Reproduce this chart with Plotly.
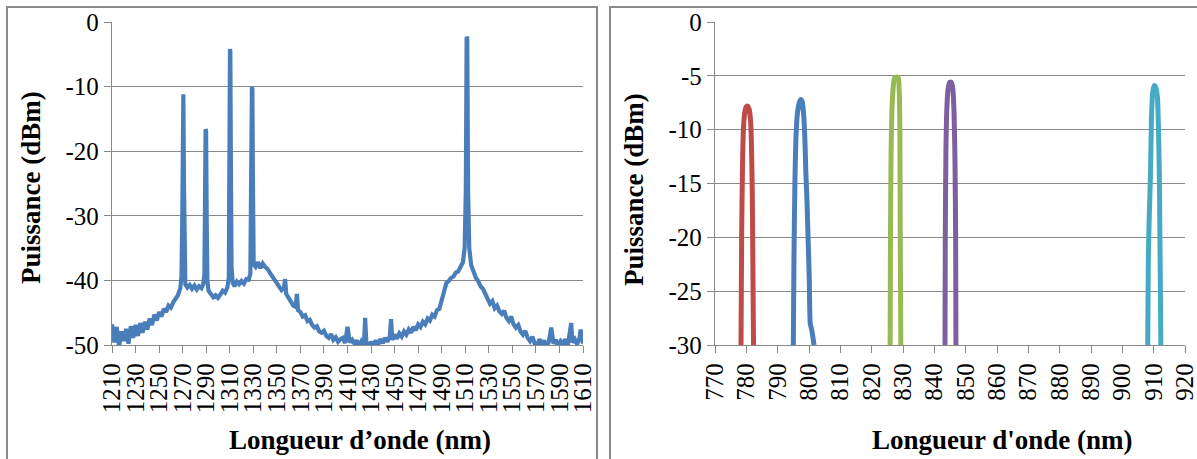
import plotly.graph_objects as go

# ---------------- Left chart: broadband spectrum ----------------
WL_LEFT = [
    1210, 1212, 1214, 1216, 1218, 1220, 1222, 1224, 1226, 1228, 1230, 1232, 1234, 1236, 1238,
    1240, 1242, 1244, 1246, 1248, 1250, 1252, 1254, 1256, 1258, 1260, 1262, 1264, 1266, 1268,
    1269, 1269.7, 1270.2, 1270.6, 1271.1, 1271.6, 1272.3, 1274, 1276, 1278, 1280, 1282, 1284,
    1286, 1287.5, 1288.5, 1289.1, 1289.5, 1289.9, 1290.4, 1291, 1292, 1294, 1296, 1298, 1300,
    1302, 1304, 1306, 1308, 1309.2, 1309.8, 1310.2, 1310.5, 1310.9, 1311.5, 1312.5, 1314, 1316,
    1318, 1320, 1322, 1324, 1326, 1327.5, 1328.3, 1328.8, 1329.2, 1329.7, 1330.3, 1332, 1334,
    1336, 1338, 1340, 1342, 1344, 1346, 1348, 1350, 1352, 1354, 1356, 1357, 1358, 1360, 1362,
    1364, 1366, 1367, 1368, 1370, 1372, 1374, 1376, 1378, 1380, 1382, 1384, 1386, 1388, 1390,
    1392, 1394, 1396, 1398, 1400, 1402, 1404, 1406, 1408, 1410, 1412, 1414, 1416, 1418, 1420,
    1422, 1424, 1425, 1426, 1428, 1430, 1432, 1434, 1436, 1438, 1440, 1442, 1444, 1446, 1447,
    1448, 1450, 1452, 1454, 1456, 1458, 1460, 1462, 1464, 1466, 1468, 1470, 1472, 1474, 1476,
    1478, 1480, 1482, 1484, 1486, 1488, 1490, 1492, 1494, 1496, 1498, 1500, 1502, 1504, 1506,
    1508, 1509.5, 1510.5, 1511.2, 1511.7, 1512.4, 1513.4, 1515, 1517, 1519, 1521, 1523, 1525,
    1527, 1529, 1531, 1533, 1535, 1537, 1539, 1541, 1543, 1545, 1547, 1549, 1551, 1553, 1555,
    1557, 1559, 1561, 1563, 1565, 1567, 1569, 1571, 1573, 1575, 1577, 1579, 1581, 1583, 1585,
    1587, 1589, 1591, 1593, 1595, 1597, 1599, 1600, 1601, 1603, 1605, 1607, 1608, 1609, 1610,
]
POWER_LEFT = [
    -46.8, -49.6, -47.2, -50.3, -47.9, -49.4, -47.5, -49.8, -47.1, -48.9, -46.9, -48.6, -46.6, -48.1, -46.4,
    -47.6, -45.9, -46.9, -45.3, -46.2, -44.9, -45.6, -44.4, -44.9, -43.9, -44.2, -43.4, -42.9, -42.3, -41.2,
    -39.5, -30.0, -11.5, -11.2, -25.0, -38.0, -40.6, -41.1, -40.7, -41.3, -40.8, -41.4, -40.9,
    -41.2, -40.6, -39.0, -25.0, -16.6, -16.8, -30.0, -40.0, -41.6, -42.1, -42.6, -42.3, -42.7,
    -42.2, -41.6, -41.9, -41.1, -39.5, -20.0, -4.2, -4.5, -20.0, -38.0, -40.4, -40.9, -40.2,
    -40.6, -40.1, -40.5, -39.8, -39.9, -39.0, -25.0, -10.1, -10.3, -25.0, -37.5, -37.9, -37.2,
    -38.1, -37.4, -37.9, -38.2, -38.8, -39.3, -39.9, -40.4, -40.9, -41.5, -41.2, -39.8, -42.1, -42.7, -43.2,
    -43.9, -44.1, -42.1, -44.6, -44.9, -45.6, -45.4, -46.3, -46.1, -46.9, -47.3, -47.1, -47.9, -48.1, -47.8,
    -48.6, -48.9, -48.3, -49.2, -48.8, -49.5, -49.1, -48.9, -49.7, -47.2, -49.6, -49.2, -49.8, -49.3, -50.2,
    -49.4, -49.9, -45.8, -49.6, -50.4, -49.5, -50.1, -49.3, -49.9, -49.1, -49.7, -48.9, -49.5, -48.6, -46.0,
    -49.2, -48.4, -49.0, -48.2, -48.7, -47.9, -48.4, -47.6, -48.1, -47.2, -47.7, -46.8, -47.2, -46.4, -46.8,
    -45.9, -46.2, -45.3, -45.6, -44.6, -44.4, -43.2, -41.6, -40.4, -40.1, -39.6, -39.4, -38.8, -38.6, -37.9,
    -37.2, -35.0, -26.0, -2.3, -2.5, -26.0, -35.0, -37.6, -38.8, -39.6, -40.1, -40.9, -41.3,
    -42.2, -42.9, -43.6, -43.2, -44.3, -43.9, -44.8, -45.2, -44.7, -45.8, -46.3, -45.6, -46.8, -47.3, -46.9,
    -47.9, -48.4, -47.8, -48.9, -49.4, -48.7, -49.8, -50.2, -49.1, -49.9, -49.3, -50.3, -49.5, -47.3, -49.8,
    -49.2, -50.1, -49.4, -49.9, -49.1, -50.2, -48.3, -46.6, -49.6, -49.1, -49.9, -48.9, -47.6, -49.4, -49.8,
]
X_TICKS_LEFT = [1210, 1230, 1250, 1270, 1290, 1310, 1330, 1350, 1370, 1390, 1410,
                1430, 1450, 1470, 1490, 1510, 1530, 1550, 1570, 1590, 1610]
Y_TICKS_LEFT = [0, -10, -20, -30, -40, -50]
Y_TEXT_LEFT = ["0", "-10", "-20", "-30", "-40", "-50"]

# ---------------- Right chart: five narrow channels ----------------
RED_X = [778.3, 778.5, 778.8, 779.1, 779.5, 780.0, 780.4, 780.9, 781.3, 781.6, 781.9, 782.3]
RED_Y = [-30, -20, -13, -9.8, -8.4, -7.85, -7.8, -8.1, -9.0, -11, -16, -30]
BLUE_X = [795.0, 795.2, 795.5, 795.8, 796.3, 796.9, 797.4, 797.8, 798.3, 798.7, 799.0, 799.4,
          799.7, 799.9, 800.1, 800.4, 800.8, 801.2, 801.6]
BLUE_Y = [-30, -22, -15, -11, -8.5, -7.5, -7.2, -7.4, -8.6, -11, -14, -17,
          -20, -22, -24, -28, -28.5, -29.2, -30]
GREEN_X = [825.9, 826.0, 826.2, 826.5, 826.9, 827.3, 827.9, 828.5, 828.8, 829.0, 829.1, 829.3]
GREEN_Y = [-30, -20, -12, -8, -6, -5.2, -5.1, -5.2, -6.5, -10, -18, -30]
PURPLE_X = [843.4, 843.5, 843.7, 844.0, 844.4, 844.9, 845.4, 845.9, 846.3, 846.6, 846.8, 846.9]
PURPLE_Y = [-30, -20, -12, -8, -6.2, -5.6, -5.6, -6.2, -8.5, -13, -20, -30]
CYAN_X = [908.1, 908.3, 908.6, 909.0, 909.3, 909.7, 910.2, 910.7, 911.2, 911.5, 911.8, 912.0, 912.3]
CYAN_Y = [-30, -22, -18, -14, -9, -6.5, -5.9, -6.1, -7, -9.5, -14, -20, -30]
X_TICKS_RIGHT = [770, 780, 790, 800, 810, 820, 830, 840, 850, 860, 870, 880, 890, 900, 910, 920]
Y_TICKS_RIGHT = [0, -5, -10, -15, -20, -25, -30]
Y_TEXT_RIGHT = ["0", "-5", "-10", "-15", "-20", "-25", "-30"]

W, H = 1197, 459
FONT = "Liberation Serif"
GRID = "#898989"


def px(x):
    return x / W


def py(y):
    return 1 - y / H


fig = go.Figure()
fig.add_trace(go.Scatter(x=WL_LEFT, y=POWER_LEFT, mode="lines", xaxis="x", yaxis="y",
                         line=dict(color="#4A7EBB", width=4.2), showlegend=False))
for xs, ys, col in [(RED_X, RED_Y, "#BE4B48"), (BLUE_X, BLUE_Y, "#4A7EBB"),
                    (GREEN_X, GREEN_Y, "#98B954"), (PURPLE_X, PURPLE_Y, "#7D60A0"),
                    (CYAN_X, CYAN_Y, "#46AAC5")]:
    fig.add_trace(go.Scatter(x=xs, y=ys, mode="lines", xaxis="x2", yaxis="y2",
                             line=dict(color=col, width=5, shape="spline", smoothing=0.6),
                             showlegend=False))

base = dict(showline=True, linecolor=GRID, linewidth=1.3, ticks="outside", ticklen=7,
            tickcolor=GRID, tickwidth=1.3, zeroline=False, automargin=False,
            ticklabeloverflow="allow",
            tickfont=dict(family=FONT, size=25, color="black"))

fig.update_layout(
    width=W, height=H, margin=dict(l=0, r=0, t=0, b=0, autoexpand=False),
    paper_bgcolor="white", plot_bgcolor="white",
    xaxis=dict(domain=[px(112), px(583)], range=[1210, 1610], tickvals=X_TICKS_LEFT,
               tickangle=-90, anchor="y", showgrid=False, **base),
    yaxis=dict(domain=[py(345), py(22)], range=[-50, 0], tickvals=Y_TICKS_LEFT,
               ticktext=Y_TEXT_LEFT, anchor="x", showgrid=True, gridcolor=GRID,
               gridwidth=1.3, **base),
    xaxis2=dict(domain=[px(715), px(1185)], range=[770, 920], tickvals=X_TICKS_RIGHT,
                tickangle=-90, anchor="y2", showgrid=False, **base),
    yaxis2=dict(domain=[py(345), py(22)], range=[-30, 0], tickvals=Y_TICKS_RIGHT,
                ticktext=Y_TEXT_RIGHT, anchor="x2", showgrid=True, gridcolor=GRID,
                gridwidth=1.3, **base),
)

# panel borders
fig.add_shape(type="rect", xref="paper", yref="paper", x0=px(7), x1=px(597), y0=py(462), y1=py(7),
              line=dict(color="#8a8a8a", width=2), layer="below")
fig.add_shape(type="rect", xref="paper", yref="paper", x0=px(610), x1=px(1202), y0=py(462), y1=py(7),
              line=dict(color="#8a8a8a", width=2), layer="below")

title_font = dict(family=FONT, size=27, color="black")
fig.add_annotation(text="<b>Longueur d’onde (nm)</b>", x=px(360), y=py(440), xref="paper", yref="paper",
                   showarrow=False, font=title_font, xanchor="center", yanchor="middle")
fig.add_annotation(text="<b>Longueur d'onde (nm)</b>", x=px(1002), y=py(440), xref="paper", yref="paper",
                   showarrow=False, font=title_font, xanchor="center", yanchor="middle")
fig.add_annotation(text="<b>Puissance (dBm)</b>", x=px(31), y=py(188), xref="paper", yref="paper",
                   showarrow=False, font=title_font, textangle=-90, xanchor="center", yanchor="middle")
fig.add_annotation(text="<b>Puissance (dBm)</b>", x=px(634), y=py(190), xref="paper", yref="paper",
                   showarrow=False, font=title_font, textangle=-90, xanchor="center", yanchor="middle")

fig.write_html("out.html", config={"displayModeBar": False},
               post_script="document.body.style.margin='0';document.body.style.overflow='hidden';")
